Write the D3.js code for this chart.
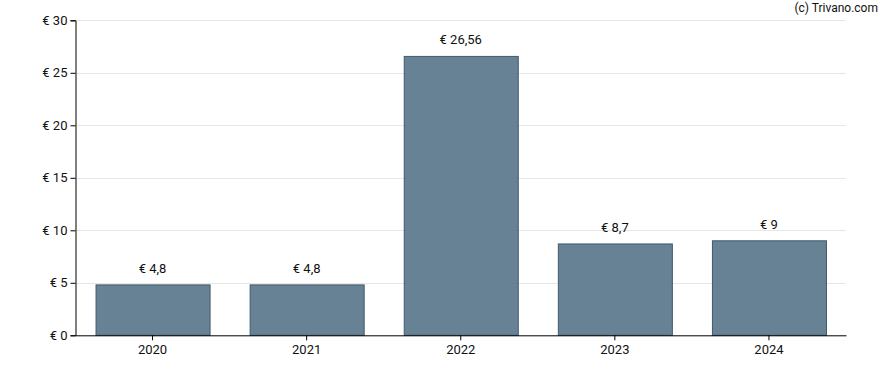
<!DOCTYPE html>
<html><head><meta charset="utf-8">
<script src="https://cdn.jsdelivr.net/npm/d3@7"></script>
<style>
body{margin:0;background:#fff;}
svg{display:block;font-family:Roboto, Arial, sans-serif;}
</style></head>
<body>
<svg id="c" width="888" height="370"></svg>
<script>
const categories = ["2020","2021","2022","2023","2024"];
const values = [4.8, 4.8, 26.56, 8.7, 9];
const labels = ["€ 4,8","€ 4,8","€ 26,56","€ 8,7","€ 9"];
const yTicks = [0,5,10,15,20,25,30];

const svg = d3.select("#c");
const m = {l:75.5, r:42, t:20.3, b:34.7};
const W = 888, H = 370;
const x = d3.scaleBand().domain(categories).range([m.l, W-m.r]).paddingInner(0.26).paddingOuter(0.13);
const y = d3.scaleLinear().domain([0,30]).range([H-m.b, m.t]);

// gridlines
svg.append("g").selectAll("line").data(yTicks.filter(d=>d>0)).join("line")
  .attr("x1", m.l).attr("x2", W-m.r)
  .attr("y1", d=>Math.round(y(d))+0.5).attr("y2", d=>Math.round(y(d))+0.5)
  .attr("stroke","#e6e6e6").attr("stroke-width",1);

// bars
svg.append("g").selectAll("rect").data(values).join("rect")
  .attr("x",(d,i)=>x(categories[i])+0.5)
  .attr("width", x.bandwidth())
  .attr("y", d=>y(d))
  .attr("height", d=>y(0)-y(d))
  .attr("fill","#557488").attr("fill-opacity",0.9)
  .attr("stroke","#42596b").attr("stroke-width",1);

// value labels
svg.append("g").selectAll("text").data(values).join("text")
  .attr("x",(d,i)=>x(categories[i])+x.bandwidth()/2)
  .attr("y", d=>y(d)-12)
  .attr("text-anchor","middle")
  .attr("font-size","13px").attr("fill","#111")
  .text((d,i)=>labels[i]);

// axes
const yAxis = d3.axisLeft(y).tickValues(yTicks).tickSize(5).tickPadding(3)
  .tickFormat(d=>"€ "+d);
const gy = svg.append("g").attr("transform",`translate(${m.l},0)`).call(yAxis);
gy.select(".domain").attr("stroke","#000");
gy.selectAll("text").attr("font-size","13px").attr("fill","#111").attr("font-family","Roboto, Arial, sans-serif");

const xAxis = d3.axisBottom(x).tickSize(5).tickPadding(4).tickSizeOuter(0);
const gx = svg.append("g").attr("transform",`translate(0,${y(0)})`).call(xAxis);
gx.select(".domain").attr("stroke","#000");
gx.selectAll("text").attr("font-size","13px").attr("fill","#111").attr("font-family","Roboto, Arial, sans-serif");

// watermark
svg.append("text").attr("x",878).attr("y",12).attr("text-anchor","end")
  .attr("font-size","12px").attr("fill","#111").text("(c) Trivano.com");
</script>
</body></html>
